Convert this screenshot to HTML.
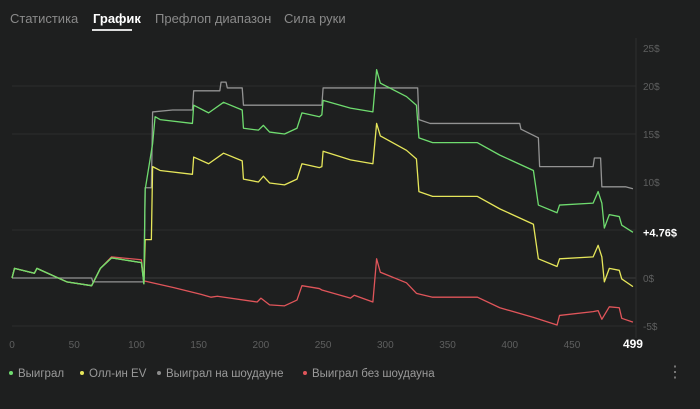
<!DOCTYPE html>
<html><head><meta charset="utf-8"><style>
body{margin:0;width:700px;height:409px;background:#1e1f1f;overflow:hidden;font-family:"Liberation Sans",sans-serif}
.tab{position:absolute;top:11px;font-size:13px;color:#8a8a8a}
.lg{position:absolute;top:368px;font-size:11.5px;color:#9a9a9a}
.dot{display:inline-block;width:4px;height:4px;border-radius:2px;margin-right:5px;vertical-align:middle;position:relative;top:-1px}
</style></head><body>
<div class="tab" style="left:10px">Статистика</div>
<div class="tab" style="left:93px;color:#fff;font-weight:bold">График</div>
<div style="position:absolute;left:92px;top:29px;width:40px;height:2px;background:#ddd"></div>
<div class="tab" style="left:155px">Префлоп диапазон</div>
<div class="tab" style="left:284px">Сила руки</div>
<svg id="chart" width="700" height="409" style="position:absolute;left:0;top:0"></svg>
<div class="lg" style="left:9px"><span class="dot" style="background:#6fdc6f"></span>Выиграл</div>
<div class="lg" style="left:80px"><span class="dot" style="background:#e6e65a"></span>Олл-ин EV</div>
<div class="lg" style="left:157px"><span class="dot" style="background:#8c8c8c"></span>Выиграл на шоудауне</div>
<div class="lg" style="left:303px"><span class="dot" style="background:#e0555a"></span>Выиграл без шоудауна</div>
<div style="position:absolute;left:667px;top:362px;color:#888;font-size:16px">⋮</div>
<script>
const xTicks=[0,50,100,150,200,250,300,350,400,450];
const yTicks=[25,20,15,10,0,-5];
const gridVals=[20,15,5,0,-5];
const greenH=[0,2,18,20,44,64,71,80,104,106,107,113,115,119,145,146,158,170,185,186,198,202,207,219,229,233,247,249,250,272,290,293,296,317,325,327,338,374,392,419,423,438,440,467,471,474,476,480,488,490,499];
const greenV=[0,1.0,0.5,1.0,-0.4,-0.8,1.0,2.1,1.6,-0.6,9.2,14,16.8,16.5,16.1,18,17.2,18.3,17.5,15.6,15.4,15.9,15.2,15,15.6,17.2,16.8,17,18.5,17.7,17.3,21.7,20.3,18.9,18,14.6,14.1,14.1,12.8,11.2,7.6,6.8,7.6,7.8,9,7.8,5.2,6.6,6.4,5.5,4.76];
const yellowH=[0,2,18,20,44,64,71,80,104,106,107,112,113,119,145,146,158,170,185,186,198,202,207,219,229,233,247,249,250,272,290,293,296,317,325,327,338,374,392,419,423,438,440,467,471,474,476,480,488,490,499];
const yellowV=[0,1.0,0.5,1.0,-0.4,-0.8,1.0,2.1,1.6,-0.6,4.0,4.0,11.6,11.2,10.8,12.6,11.9,13.0,12.2,10.3,10.0,10.6,9.9,9.7,10.3,11.9,11.5,11.6,13.2,12.3,11.9,16.1,14.8,13.3,12.4,9.0,8.5,8.5,7.2,5.6,2.0,1.2,2.0,2.2,3.4,2.2,-0.4,1.0,0.8,-0.1,-0.9];
const greyH=[0,64,65,106,107,112,113,129,145,146,167,168,172,173,185,186,249,250,326,327,336,408,409,423,424,467,468,473,474,493,499];
const greyV=[0,0,-0.4,-0.4,9.4,9.4,17.3,17.5,17.5,19.5,19.5,20.4,20.4,19.8,19.8,18,18,19.8,19.8,16.5,16.1,16.1,15.5,14.6,11.6,11.6,12.5,12.5,9.5,9.5,9.3];
const redH=[0,2,18,20,44,64,71,80,104,106,130,152,160,165,197,200,207,219,229,233,247,249,272,275,290,293,296,317,325,338,374,392,419,438,440,467,471,474,480,488,490,499];
const redV=[0,1.0,0.5,1.0,-0.4,-0.8,1.0,2.2,1.9,-0.3,-1,-1.7,-2,-1.9,-2.5,-2.1,-2.8,-2.9,-2.3,-0.8,-1.1,-1.25,-2.1,-1.8,-2.5,2.0,0.6,-0.5,-1.6,-2,-2,-3.1,-4.1,-4.9,-3.9,-3.5,-3.4,-4.3,-3,-3.1,-4.2,-4.6];
const NS='http://www.w3.org/2000/svg';
const svg=document.getElementById('chart');
const X=h=>12+h*1.2444, Y=v=>278-v*9.6;
function mk(t,a){const e=document.createElementNS(NS,t);for(const k in a)e.setAttribute(k,a[k]);svg.appendChild(e);return e;}
gridVals.forEach(v=>{const l=mk('line',{x1:12,x2:636,y1:Y(v),y2:Y(v),stroke:v===0?'#3c3d3d':'#2c2d2d','stroke-width':1});

});
const ax=mk('line',{x1:636,x2:636,y1:38,y2:338,stroke:'#2e2f2f'});


yTicks.forEach(v=>{const t=mk('text',{x:643,y:(v===25?48:Y(v))+4,fill:'#5e5f5f','font-size':10});t.textContent=v+'$';

});
xTicks.forEach(h=>{const t=mk('text',{x:X(h),y:348,fill:'#5e5f5f','font-size':10,'text-anchor':'middle'});t.textContent=h;

});
const lastT=mk('text',{x:X(499),y:348,fill:'#fff','font-size':12,'font-weight':'bold','text-anchor':'middle'});lastT.textContent='499';


function line(h,v,c,name){const p=mk('polyline',{points:h.map((x,i)=>X(x)+','+Y(v[i])).join(' '),fill:'none',stroke:c,'stroke-width':1.3,'stroke-linejoin':'round'});

}
line(greyH,greyV,'#939393','series-won-showdown');
line(redH,redV,'#e0555a','series-won-no-showdown');
line(yellowH,yellowV,'#e6e65a','series-allin-ev');
line(greenH,greenV,'#6fdc6f','series-won');
const cur=mk('text',{x:643,y:Y(greenV[greenV.length-1])+4,fill:'#fff','font-size':11,'font-weight':'bold'});cur.textContent='+4.76$';


</script>
</body></html>
